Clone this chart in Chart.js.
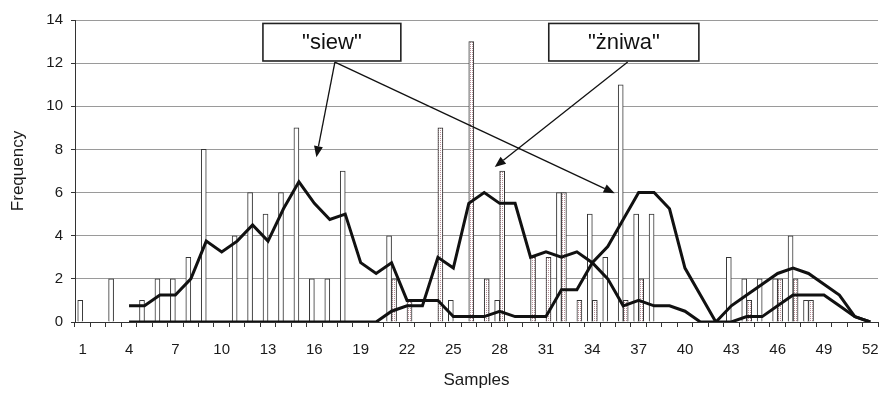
<!DOCTYPE html>
<html>
<head>
<meta charset="utf-8">
<script src="https://cdn.jsdelivr.net/npm/chart.js@4"></script>
<style>
  html, body { margin: 0; padding: 0; background: #fff; }
  #wrap { width: 880px; height: 394px; }
</style>
</head>
<body>
<div id="wrap"><canvas id="chart" width="880" height="394"></canvas></div>
<script>
// Samples 1..52
const categories = ['1','2','3','4','5','6','7','8','9','10','11','12','13','14','15','16','17','18','19','20',
  '21','22','23','24','25','26','27','28','29','30','31','32','33','34','35','36','37','38','39','40',
  '41','42','43','44','45','46','47','48','49','50','51','52'];

// white bars
const siewCounts = [1,0,2,0,1,2,2,3,8,0, 4,6,5,6,9,2,2,7,0,0, 4,0,0,0,1,0,0,1,0,0,
  0,6,0,5,3,11,5,5,0,0, 0,0,3,2,2,2,4,1,0,0, 0,0];

// dotted bars
const zniwaCounts = [0,0,0,0,0,0,0,0,0,0, 0,0,0,0,0,0,0,0,0,0, 2,1,0,9,0,13,2,7,0,3,
  3,6,1,1,0,1,2,0,0,0, 0,0,0,1,0,2,2,1,0,0, 0,0];

// trend lines
const siewTrend = [null,null,null,0.75,0.75,1.25,1.25,2,3.75,3.25, 3.75,4.5,3.75,5.25,6.5,5.5,4.75,5,2.75,2.25,
  2.75,1,1,1,0.25,0.25,0.25,0.5,0.25,0.25, 0.25,1.5,1.5,2.75,3.5,4.75,6,6,5.25,2.5,
  1.25,0,0.75,1.25,1.75,2.25,2.5,2.25,1.75,1.25, 0.25,0];

const zniwaTrend = [null,null,null,0,0,0,0,0,0,0, 0,0,0,0,0,0,0,0,0,0,
  0.5,0.75,0.75,3,2.5,5.5,6,5.5,5.5,3, 3.25,3,3.25,2.75,2,0.75,1,0.75,0.75,0.5,
  0,0,0,0.25,0.25,0.75,1.25,1.25,1.25,0.75, 0.25,0];

const yTicks = [0, 2, 4, 6, 8, 10, 12, 14];

// callouts: box in [category index, value], arrow tips likewise
const callouts = [
  { text: '"siew"', box: [11.67, 13.84, 20.6, 12.1], from: [16.33, 12.05], tips: [[15.13, 7.64], [34.45, 5.97]] },
  { text: '"żniwa"', box: [30.18, 13.84, 39.9, 12.1], from: [35.29, 12.05], tips: [[26.68, 7.18]] }
];

const FONT = 'Arial, "Liberation Sans", sans-serif';

function dotPattern() {
  const c = document.createElement('canvas');
  c.width = 2; c.height = 2;
  const g = c.getContext('2d');
  g.fillStyle = '#ffffff';
  g.fillRect(0, 0, 2, 2);
  g.fillStyle = '#b98f98';
  g.fillRect(0, 0, 1, 1);
  return g.createPattern(c, 'repeat');
}

function drawArrow(ctx, x1, y1, x2, y2) {
  const ang = Math.atan2(y2 - y1, x2 - x1);
  const len = 11, half = 4.5;
  const bx = x2 - len * Math.cos(ang), by = y2 - len * Math.sin(ang);
  ctx.beginPath();
  ctx.moveTo(x1, y1);
  ctx.lineTo(bx, by);
  ctx.stroke();
  ctx.beginPath();
  ctx.moveTo(x2, y2);
  ctx.lineTo(bx + half * Math.sin(ang), by - half * Math.cos(ang));
  ctx.lineTo(bx - half * Math.sin(ang), by + half * Math.cos(ang));
  ctx.closePath();
  ctx.fill();
}

const calloutPlugin = {
  id: 'callouts',
  afterDatasetsDraw(chart) {
    const ctx = chart.ctx;
    const xs = chart.scales.x, ys = chart.scales.y;
    ctx.save();
    callouts.forEach(c => {
      const fx = xs.getPixelForValue(c.from[0]), fy = ys.getPixelForValue(c.from[1]);
      ctx.strokeStyle = '#111';
      ctx.fillStyle = '#111';
      ctx.lineWidth = 1.3;
      c.tips.forEach(t => drawArrow(ctx, fx, fy, xs.getPixelForValue(t[0]), ys.getPixelForValue(t[1])));
      const x1 = xs.getPixelForValue(c.box[0]), y1 = ys.getPixelForValue(c.box[1]);
      const x2 = xs.getPixelForValue(c.box[2]), y2 = ys.getPixelForValue(c.box[3]);
      ctx.fillStyle = '#fff';
      ctx.fillRect(x1, y1, x2 - x1, y2 - y1);
      ctx.lineWidth = 1.6;
      ctx.strokeStyle = '#222';
      ctx.strokeRect(x1, y1, x2 - x1, y2 - y1);
      ctx.fillStyle = '#111';
      ctx.font = '22px ' + FONT;
      ctx.textAlign = 'center';
      ctx.textBaseline = 'middle';
      ctx.fillText(c.text, (x1 + x2) / 2, (y1 + y2) / 2 + 1);
    });
    ctx.restore();
  }
};

const ctx = document.getElementById('chart').getContext('2d');
new Chart(ctx, {
  type: 'bar',
  data: {
    labels: categories,
    datasets: [
      {
        type: 'line',
        label: 'siew trend',
        data: siewTrend,
        borderColor: '#111',
        borderWidth: 3,
        pointRadius: 0,
        tension: 0,
        fill: false,
        order: 0
      },
      {
        type: 'line',
        label: 'żniwa trend',
        data: zniwaTrend,
        borderColor: '#111',
        borderWidth: 3,
        pointRadius: 0,
        tension: 0,
        fill: false,
        order: 0
      },
      {
        label: 'siew',
        data: siewCounts,
        backgroundColor: '#ffffff',
        borderColor: '#333',
        borderWidth: 1,
        barThickness: 5,
        order: 1
      },
      {
        label: 'żniwa',
        data: zniwaCounts,
        backgroundColor: dotPattern(),
        borderColor: '#333',
        borderWidth: 1,
        barThickness: 5,
        order: 1
      }
    ]
  },
  options: {
    responsive: false,
    animation: false,
    events: [],
    layout: { padding: { top: 20, right: 2, bottom: 0, left: 0 } },
    plugins: {
      legend: { display: false },
      tooltip: { enabled: false }
    },
    scales: {
      x: {
        offset: true,
        grid: { offset: true, drawOnChartArea: false, tickLength: 5, tickColor: '#333' },
        border: { color: '#333', width: 1 },
        ticks: {
          autoSkip: false,
          maxRotation: 0,
          padding: 14,
          color: '#1a1a1a',
          font: { family: FONT, size: 15 },
          callback: (v, i) => (i % 3 === 0 ? categories[i] : '')
        },
        title: {
          display: true,
          text: 'Samples',
          color: '#1a1a1a',
          font: { family: FONT, size: 17 },
          padding: { top: 2, bottom: 3 }
        },
        afterFit: s => {
          s.height = 72;
          s.paddingLeft = 0;
          s.paddingRight = 0;
        }
      },
      y: {
        min: 0,
        max: 14,
        afterBuildTicks: s => { s.ticks = yTicks.map(v => ({ value: v })); },
        grid: { color: '#9a9a9a', borderDash: [2, 2], tickLength: 4, tickColor: '#333', tickBorderDash: [] },
        border: { color: '#333', width: 1 },
        ticks: {
          padding: 8,
          color: '#1a1a1a',
          font: { family: FONT, size: 15 }
        },
        title: {
          display: true,
          text: 'Frequency',
          color: '#1a1a1a',
          font: { family: FONT, size: 17 },
          padding: { top: 8, bottom: 2 }
        },
        afterFit: s => { s.width = 75; }
      }
    }
  },
  plugins: [calloutPlugin]
});
</script>
</body>
</html>
